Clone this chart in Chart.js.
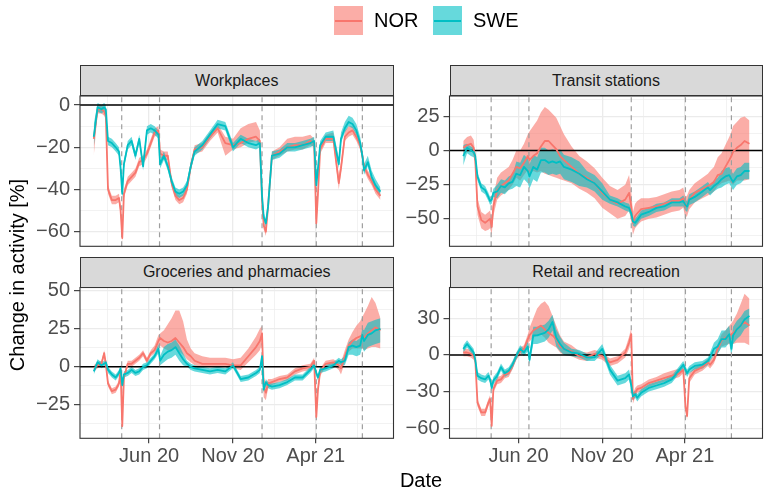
<!DOCTYPE html>
<html>
<head>
<meta charset="utf-8">
<script src="https://cdn.jsdelivr.net/npm/chart.js@4.4.1/dist/chart.umd.min.js"></script>
<style>
  html, body { margin:0; padding:0; background:#fff; }
  body { width:764px; height:489px; position:relative; overflow:hidden; font-family:"Liberation Sans", Arial, Helvetica, sans-serif; }
  canvas { position:absolute; left:0; top:0; }
  .strip { position:absolute; box-sizing:border-box; height:31px; background:#D9D9D9; border:1px solid #333333; color:#1A1A1A; font-size:16px; display:flex; align-items:center; justify-content:center; }
  .key { position:absolute; top:6px; width:29px; height:29px; }
  .key i { position:absolute; left:1px; right:1px; top:13.5px; height:2px; }
  .ltxt { position:absolute; top:8.4px; font-size:20px; line-height:24px; color:#000; white-space:nowrap; }
  .title { position:absolute; font-size:20px; line-height:24px; color:#000; white-space:nowrap; text-align:center; }
</style>
</head>
<body>
<canvas id="c1" width="764" height="489"></canvas>
<canvas id="c2" width="764" height="489"></canvas>
<canvas id="c3" width="764" height="489"></canvas>
<canvas id="c4" width="764" height="489"></canvas>

<div class="key" style="left:334px;background:rgba(248,118,109,0.6)"><i style="background:#F8766D"></i></div>
<div class="ltxt" style="left:374px">NOR</div>
<div class="key" style="left:433px;background:rgba(0,191,196,0.6)"><i style="background:#00BFC4"></i></div>
<div class="ltxt" style="left:473px">SWE</div>

<div class="strip" style="left:80px;top:65px;width:313.5px">Workplaces</div>
<div class="strip" style="left:449.5px;top:65px;width:313px">Transit stations</div>
<div class="strip" style="left:80px;top:256.5px;width:313.5px">Groceries and pharmacies</div>
<div class="strip" style="left:449.5px;top:256.5px;width:313px">Retail and recreation</div>

<div class="title" style="left:271px;top:467.8px;width:300px">Date</div>
<div class="title" style="left:-132.6px;top:263px;width:300px;transform:rotate(-90deg)">Change in activity [%]</div>

<script>
// ---------------- data ----------------
const DATES = ['2020-02-21','2020-02-28','2020-03-06','2020-03-11','2020-03-14','2020-03-18','2020-03-25','2020-04-01','2020-04-07','2020-04-10',
 '2020-04-13','2020-04-16','2020-04-23','2020-04-30','2020-05-07','2020-05-14','2020-05-21','2020-05-28','2020-06-04','2020-06-11',
 '2020-06-18','2020-06-21','2020-06-28','2020-07-05','2020-07-12','2020-07-19','2020-07-26','2020-08-02','2020-08-09','2020-08-16',
 '2020-08-23','2020-09-06','2020-09-20','2020-10-04','2020-10-18','2020-11-01','2020-11-15','2020-11-29','2020-12-13','2020-12-20',
 '2020-12-24','2020-12-27','2020-12-31','2021-01-04','2021-01-11','2021-01-25','2021-02-08','2021-02-22','2021-03-08','2021-03-22',
 '2021-03-29','2021-04-02','2021-04-05','2021-04-09','2021-04-19','2021-05-03','2021-05-13','2021-05-17','2021-05-24','2021-05-31',
 '2021-06-07','2021-06-14','2021-06-21','2021-06-25','2021-06-28','2021-07-05','2021-07-12','2021-07-19','2021-07-28'];

const HOLIDAYS = ['2020-04-12','2020-06-20','2020-12-24','2021-04-02','2021-06-25'];
const X_MAJOR = ['2020-06-01','2020-11-01','2021-04-01'];
const X_LABELS = ['Jun 20','Nov 20','Apr 21'];
const X_MINOR = ['2020-03-17','2020-08-16','2021-01-15','2021-06-16'];
const X_RANGE = ['2020-01-26','2021-08-22'];

// Workplaces
const WORK_NOR = [-16,-2,-2,-3,-5,-40,-45,-45,-44,-50,-63,-42,-36,-34,-32,-27,-26,-23,-18,-13,-12,-23,-24,-24,-37,-43,-45,-44,-40,-29,-21,-20,-15,-11,-18,-19,-18,-16,-15,-17,-45,-57,-60,-48,-24,-22,-20,-19,-19,-17,-18,-56,-42,-21,-16,-16,-37,-30,-15,-13,-12,-15,-19,-24,-29,-33,-36,-40,-43];
const WORK_NOR_LO = [-24,-4,-4,-5,-7,-42,-47,-47,-46,-52,-65,-44,-38,-36,-34,-29,-28,-25,-20,-15,-14,-25,-26,-26,-39,-45,-47,-46,-42,-31,-23,-22,-17,-13,-24,-21,-20,-18,-17,-19,-47,-59,-62,-50,-26,-24,-22,-21,-21,-19,-20,-58,-44,-23,-18,-18,-40,-32,-17,-15,-14,-17,-21,-26,-31,-35,-38,-42,-45];
const WORK_NOR_HI = [-12,0,0,-1,-3,-38,-43,-43,-42,-48,-61,-40,-34,-32,-30,-25,-24,-21,-16,-11,-10,-21,-22,-22,-35,-41,-43,-42,-38,-27,-19,-18,-13,-9,-15,-16,-11,-9,-8,-12,-43,-55,-58,-46,-22,-20,-16,-15,-15,-14,-16,-54,-40,-19,-14,-13,-33,-27,-12,-10,-10,-13,-17,-22,-27,-31,-34,-38,-41];
const WORK_SWE = [-15,-1,-2,-1,-2,-17,-18,-20,-22,-30,-42,-28,-19,-17,-24,-16,-29,-12,-11,-12,-14,-28,-24,-29,-36,-41,-42,-41,-38,-29,-22,-19,-14,-9,-10,-20,-16,-18,-19,-18,-43,-53,-56,-48,-24,-23,-20,-20,-19,-18,-17,-38,-30,-19,-15,-15,-28,-16,-11,-8,-9,-12,-18,-24,-31,-27,-34,-38,-41];
const WORK_SWE_LO = [-20,-3,-4,-3,-4,-19,-20,-22,-24,-32,-45,-30,-21,-19,-26,-18,-31,-14,-13,-14,-16,-30,-26,-31,-38,-43,-44,-43,-40,-31,-24,-21,-16,-11,-12,-22,-18,-20,-21,-20,-45,-55,-58,-50,-26,-25,-22,-22,-21,-20,-19,-40,-32,-21,-17,-17,-30,-18,-13,-10,-11,-14,-20,-26,-33,-29,-36,-40,-43];
const WORK_SWE_HI = [-9,1,0,1,0,-15,-16,-18,-20,-28,-39,-26,-17,-15,-22,-14,-27,-10,-9,-10,-12,-26,-22,-27,-34,-39,-40,-39,-36,-27,-20,-17,-12,-7,-8,-18,-14,-16,-17,-16,-41,-51,-54,-46,-22,-21,-18,-18,-17,-16,-15,-36,-28,-17,-13,-12,-25,-13,-8,-5,-6,-9,-15,-21,-28,-24,-31,-35,-39];

// Transit stations
const TRANSIT_NOR = [2,4,5,2,-7,-41,-51,-53,-51,-50,-56,-41,-29,-26,-24,-22,-17,-12,-13,-9,-4,-7,-4,-2,3,7,7,4,1,-4,-7,-12,-17,-20,-24,-31,-36,-39,-36,-31,-41,-53,-48,-46,-43,-42,-41,-39,-37,-37,-35,-41,-40,-36,-31,-28,-26,-25,-23,-18,-17,-12,-7,-4,-1,2,4,7,5];
const TRANSIT_NOR_LO = [-3,-1,0,-3,-12,-47,-57,-59,-58,-57,-62,-48,-36,-33,-31,-29,-25,-20,-22,-18,-14,-17,-15,-16,-15,-17,-18,-19,-20,-21,-22,-24,-28,-31,-35,-42,-46,-50,-48,-44,-52,-62,-57,-55,-52,-50,-49,-47,-45,-44,-42,-49,-48,-43,-38,-35,-33,-32,-30,-26,-24,-23,-22,-24,-25,-22,-22,-22,-21];
const TRANSIT_NOR_HI = [7,10,11,8,-2,-35,-45,-47,-45,-44,-50,-34,-20,-16,-14,-12,-7,0,0,5,12,14,18,22,28,32,30,27,24,18,12,3,-4,-8,-13,-20,-26,-29,-25,-18,-30,-45,-39,-37,-35,-35,-34,-32,-30,-29,-27,-34,-33,-29,-24,-20,-17,-15,-12,-5,-2,4,10,14,18,21,24,25,22];
const TRANSIT_SWE = [-4,2,0,-1,-4,-19,-27,-29,-34,-37,-36,-31,-30,-26,-27,-24,-23,-17,-18,-12,-15,-19,-12,-14,-7,-7,-9,-8,-9,-8,-12,-14,-17,-21,-24,-30,-36,-38,-41,-42,-46,-52,-53,-51,-47,-45,-42,-41,-38,-38,-37,-40,-41,-36,-34,-30,-27,-29,-26,-24,-21,-19,-18,-21,-23,-19,-18,-15,-15];
const TRANSIT_SWE_LO = [-11,-2,-4,-5,-8,-22,-30,-32,-37,-40,-39,-34,-35,-31,-32,-29,-28,-26,-27,-21,-24,-28,-21,-23,-16,-16,-18,-17,-18,-17,-21,-23,-26,-27,-30,-36,-39,-41,-44,-45,-49,-55,-56,-54,-50,-48,-45,-44,-41,-41,-41,-44,-45,-40,-38,-34,-31,-33,-30,-28,-27,-25,-24,-27,-29,-25,-24,-21,-21];
const TRANSIT_SWE_HI = [4,5,3,2,-1,-16,-24,-26,-31,-34,-33,-28,-25,-21,-22,-19,-18,-8,-9,-3,-6,-10,-3,-5,2,2,0,1,0,1,-3,-5,-8,-15,-18,-24,-33,-35,-38,-39,-43,-49,-50,-48,-44,-42,-39,-38,-35,-35,-33,-36,-37,-32,-30,-26,-23,-25,-22,-20,-15,-13,-12,-15,-17,-13,-12,-9,-9];

// Groceries and pharmacies
const GROC_NOR = [-1,1,2,9,2,-11,-16,-15,-11,-2,-39,-7,2,2,4,6,9,4,9,11,17,19,17,16,17,19,16,13,9,7,4,2,2,2,2,1,1,7,13,17,22,-13,-17,-11,-10,-8,-7,-3,-1,0,4,-33,-15,-3,2,3,1,-1,7,14,17,19,20,21,19,22,24,26,24];
const GROC_NOR_LO = [-3,-1,0,7,0,-13,-18,-17,-13,-4,-41,-9,0,0,2,4,7,2,7,9,13,14,12,11,11,12,10,8,5,3,1,0,0,0,0,-1,-2,3,8,11,15,-20,-22,-14,-12,-10,-9,-5,-3,-2,2,-36,-18,-6,0,1,-2,-5,3,10,12,12,12,12,11,12,13,13,12];
const GROC_NOR_HI = [1,3,4,11,4,-9,-14,-13,-9,0,-37,-5,4,4,6,8,11,6,11,14,21,22,24,28,32,37,37,30,18,12,9,7,6,6,6,5,6,12,20,25,27,-6,-12,-8,-8,-6,-5,-1,1,2,6,-30,-12,-1,4,5,3,3,11,18,23,27,30,33,35,40,46,42,32];
const GROC_SWE = [-3,3,1,2,3,-2,-5,-7,-4,-1,-12,-5,-4,-2,-4,-3,0,1,4,7,12,4,8,10,11,13,9,5,2,0,-1,-2,-3,-2,-3,1,-8,-7,-4,-2,7,-15,-10,-12,-13,-12,-10,-7,-7,-2,1,-4,-7,-2,-1,1,4,3,4,13,14,13,14,21,17,21,22,24,25];
const GROC_SWE_LO = [-5,1,-1,0,1,-4,-7,-9,-6,-3,-14,-7,-6,-4,-6,-5,-2,-1,2,5,9,1,3,5,6,8,4,1,0,-2,-3,-4,-5,-4,-5,-1,-10,-9,-6,-4,5,-17,-12,-14,-15,-14,-12,-9,-9,-4,-1,-6,-9,-4,-3,-1,2,1,1,8,8,7,8,13,10,13,14,15,16];
const GROC_SWE_HI = [-1,5,3,4,5,0,-3,-5,-2,1,-10,-3,-2,0,-2,-1,2,3,6,9,15,7,13,15,16,18,14,9,4,2,1,0,-1,0,-1,3,-6,-5,-2,0,9,-13,-8,-10,-11,-10,-8,-5,-5,0,3,-2,-5,0,1,3,6,5,7,16,18,17,19,25,24,29,30,31,32];

// Retail and recreation
const RETAIL_NOR = [2,2,1,-1,-4,-39,-47,-47,-39,-36,-58,-28,-21,-20,-16,-15,-9,-1,3,5,13,16,20,22,24,21,18,16,13,7,5,3,-1,-2,1,-1,-6,-4,2,10,17,-36,-31,-28,-27,-23,-21,-19,-17,-15,-12,-42,-50,-19,-13,-10,-6,-8,-4,5,12,14,16,17,18,21,24,27,24];
const RETAIL_NOR_LO = [-1,-1,-2,-4,-7,-42,-50,-50,-42,-39,-61,-31,-24,-23,-19,-18,-12,-4,0,2,9,11,14,16,17,14,10,8,6,2,0,-1,-4,-5,-2,-4,-9,-7,-2,5,12,-40,-35,-31,-30,-26,-24,-22,-20,-18,-15,-45,-53,-23,-16,-13,-9,-11,-7,1,7,8,9,9,9,10,10,10,8];
const RETAIL_NOR_HI = [5,5,4,2,-1,-36,-44,-44,-36,-33,-55,-25,-18,-17,-13,-12,-6,2,6,8,17,22,30,38,42,44,40,32,24,16,11,8,3,2,4,2,-3,-1,5,15,22,-32,-27,-25,-24,-20,-18,-15,-13,-11,-9,-38,-46,-15,-10,-7,-3,-4,0,9,17,20,24,26,28,34,42,50,46];
const RETAIL_SWE = [5,9,5,2,-4,-17,-19,-20,-17,-20,-27,-21,-17,-10,-15,-13,-8,-1,5,2,7,-4,16,16,17,18,21,27,14,9,5,2,1,-2,-2,5,-12,-21,-19,-16,-25,-34,-32,-35,-31,-27,-25,-23,-20,-12,-8,-12,-15,-12,-9,-8,-5,-2,5,7,13,13,17,5,16,21,24,29,32];
const RETAIL_SWE_LO = [2,6,2,-1,-7,-20,-22,-23,-20,-23,-30,-24,-20,-13,-18,-16,-11,-4,2,-1,3,-8,9,9,10,11,14,20,7,3,0,-1,-2,-5,-5,1,-16,-25,-23,-20,-29,-37,-35,-38,-34,-30,-28,-26,-23,-15,-11,-15,-18,-15,-12,-11,-8,-5,0,1,6,6,10,-1,9,13,16,21,24];
const RETAIL_SWE_HI = [8,12,8,5,-1,-14,-16,-17,-14,-17,-24,-18,-14,-7,-12,-10,-5,2,8,5,11,0,23,23,24,25,28,33,21,15,10,5,4,1,1,9,-8,-17,-15,-12,-21,-31,-29,-32,-28,-24,-22,-20,-17,-9,-5,-9,-12,-9,-6,-5,-2,2,10,13,20,20,24,11,23,28,31,36,38];

// y-axis ticks per panel
const WORK_TICKS = [0,-20,-40,-60],        WORK_MINOR = [-10,-30,-50];
const TRANSIT_TICKS = [25,0,-25,-50],      TRANSIT_MINOR = [37.5,12.5,-12.5,-37.5,-62.5];
const GROC_TICKS = [50,25,0,-25],          GROC_MINOR = [37.5,12.5,-12.5,-37.5];
const RETAIL_TICKS = [30,0,-30,-60],       RETAIL_MINOR = [45,15,-15,-45];

// ---------------- styling / build ----------------
const NOR_COL = '#F8766D', SWE_COL = '#00BFC4';
const NOR_FILL = 'rgba(248,118,109,0.6)', SWE_FILL = 'rgba(0,191,196,0.6)';
const GRID = '#EBEBEB';
Chart.defaults.font.family = '"Liberation Sans", Arial, Helvetica, sans-serif';
Chart.defaults.animation = false;

const dayNum = s => Date.parse(s + 'T00:00:00Z') / 864e5;
const XD = DATES.map(dayNum);
const XMAJ = X_MAJOR.map(dayNum), XMIN_T = X_MINOR.map(dayNum);
const XLAB = {}; XMAJ.forEach((v,i) => XLAB[v] = X_LABELS[i]);
const XLO = dayNum(X_RANGE[0]) + 0.9, XHI = dayNum(X_RANGE[1]) - 1.2;
const fmt = v => v < 0 ? '\u2212' + Math.abs(v) : String(v);

const borderPlugin = {
  id: 'pborder',
  afterDraw(chart) {
    const {ctx, chartArea: a} = chart;
    ctx.save();
    ctx.strokeStyle = '#333333';
    ctx.lineWidth = 1.1;
    ctx.strokeRect(a.left, a.top, a.right - a.left, a.bottom - a.top);
    ctx.restore();
  }
};

function build(p) {
  const pts = arr => arr.map((v, i) => ({x: XD[i], y: v}));
  const ds = [];
  const lineDs = (arr, col) => ({data: pts(arr), borderColor: col, borderWidth: 1.8, pointRadius: 0, fill: false, order: 0, borderJoinStyle: 'round'});
  ds.push(lineDs(p.swe, SWE_COL));
  ds.push(lineDs(p.nor, NOR_COL));
  HOLIDAYS.forEach(h => {
    const x = dayNum(h);
    ds.push({data: [{x: x, y: p.yr[0]}, {x: x, y: p.yr[1]}], borderColor: '#9E9E9E', borderWidth: 1.2, borderDash: [5, 4], pointRadius: 0, fill: false, order: 1});
  });
  ds.push({data: [{x: XLO, y: 0}, {x: XHI, y: 0}], borderColor: '#000000', borderWidth: 1.5, pointRadius: 0, fill: false, order: 2});
  const ribbon = (lo, hi, fillCol, ord) => {
    const loIdx = ds.length;
    ds.push({data: pts(lo), borderColor: 'rgba(0,0,0,0)', borderWidth: 0, pointRadius: 0, fill: false, order: ord});
    ds.push({data: pts(hi), borderColor: 'rgba(0,0,0,0)', borderWidth: 0, backgroundColor: fillCol, pointRadius: 0, fill: {target: loIdx}, order: ord});
  };
  ribbon(p.sweLo, p.sweHi, SWE_FILL, 3);
  ribbon(p.norLo, p.norHi, NOR_FILL, 4);

  const a = p.area;
  const YW = 60, XH = p.bottom ? 32 : 0;
  const yTicks = p.majors.concat(p.minors).sort((u, v) => u - v);
  const xTicks = XMAJ.concat(XMIN_T).sort((u, v) => u - v);
  const isMajY = v => p.majors.indexOf(v) >= 0;
  const isMajX = v => XMAJ.indexOf(v) >= 0;

  new Chart(document.getElementById(p.id), {
    type: 'line',
    data: {datasets: ds},
    plugins: [borderPlugin],
    options: {
      responsive: false, devicePixelRatio: 1, animation: false, events: [],
      layout: {padding: {left: a.l - YW, right: 764 - a.r, top: a.t, bottom: 489 - a.b - XH}},
      plugins: {legend: {display: false}, tooltip: {enabled: false}, title: {display: false}},
      scales: {
        x: {
          type: 'linear', min: XLO, max: XHI,
          afterBuildTicks: s => { s.ticks = xTicks.map(v => ({value: v})); },
          afterFit: s => { s.height = XH; },
          border: {display: false},
          grid: {
            color: GRID,
            lineWidth: c => (c.tick && isMajX(c.tick.value)) ? 1.3 : 0.65,
            drawTicks: p.bottom, tickLength: 5, tickWidth: 1.1,
            tickColor: c => (c.tick && isMajX(c.tick.value)) ? '#333333' : 'rgba(0,0,0,0)'
          },
          ticks: {
            display: p.bottom, autoSkip: false, maxRotation: 0, minRotation: 0, padding: 1,
            color: '#4D4D4D', font: {size: 20},
            callback: v => XLAB[v] || ''
          }
        },
        y: {
          type: 'linear', min: p.yr[0], max: p.yr[1],
          afterBuildTicks: s => { s.ticks = yTicks.map(v => ({value: v})); },
          afterFit: s => { s.width = YW; },
          border: {display: false},
          grid: {
            color: GRID,
            lineWidth: c => (c.tick && isMajY(c.tick.value)) ? 1.3 : 0.65,
            drawTicks: true, tickLength: 6, tickWidth: 1.1,
            tickColor: c => (c.tick && isMajY(c.tick.value)) ? '#333333' : 'rgba(0,0,0,0)'
          },
          ticks: {
            autoSkip: false, padding: 4, color: '#4D4D4D', font: {size: 20},
            callback: v => isMajY(v) ? fmt(v) : ''
          }
        }
      }
    }
  });
}

build({id: 'c1', area: {l: 80, r: 393.5, t: 96, b: 246.3}, yr: [-66.9, 4.3], majors: WORK_TICKS, minors: WORK_MINOR, bottom: false,
  nor: WORK_NOR, norLo: WORK_NOR_LO, norHi: WORK_NOR_HI, swe: WORK_SWE, sweLo: WORK_SWE_LO, sweHi: WORK_SWE_HI});
build({id: 'c2', area: {l: 449.5, r: 762.5, t: 96, b: 246.3}, yr: [-70.2, 40], majors: TRANSIT_TICKS, minors: TRANSIT_MINOR, bottom: false,
  nor: TRANSIT_NOR, norLo: TRANSIT_NOR_LO, norHi: TRANSIT_NOR_HI, swe: TRANSIT_SWE, sweLo: TRANSIT_SWE_LO, sweHi: TRANSIT_SWE_HI});
build({id: 'c3', area: {l: 80, r: 393.5, t: 287.5, b: 438.3}, yr: [-47, 52.2], majors: GROC_TICKS, minors: GROC_MINOR, bottom: true,
  nor: GROC_NOR, norLo: GROC_NOR_LO, norHi: GROC_NOR_HI, swe: GROC_SWE, sweLo: GROC_SWE_LO, sweHi: GROC_SWE_HI});
build({id: 'c4', area: {l: 449.5, r: 762.5, t: 287.5, b: 438.3}, yr: [-68.2, 55.2], majors: RETAIL_TICKS, minors: RETAIL_MINOR, bottom: true,
  nor: RETAIL_NOR, norLo: RETAIL_NOR_LO, norHi: RETAIL_NOR_HI, swe: RETAIL_SWE, sweLo: RETAIL_SWE_LO, sweHi: RETAIL_SWE_HI});
</script>
</body>
</html>
